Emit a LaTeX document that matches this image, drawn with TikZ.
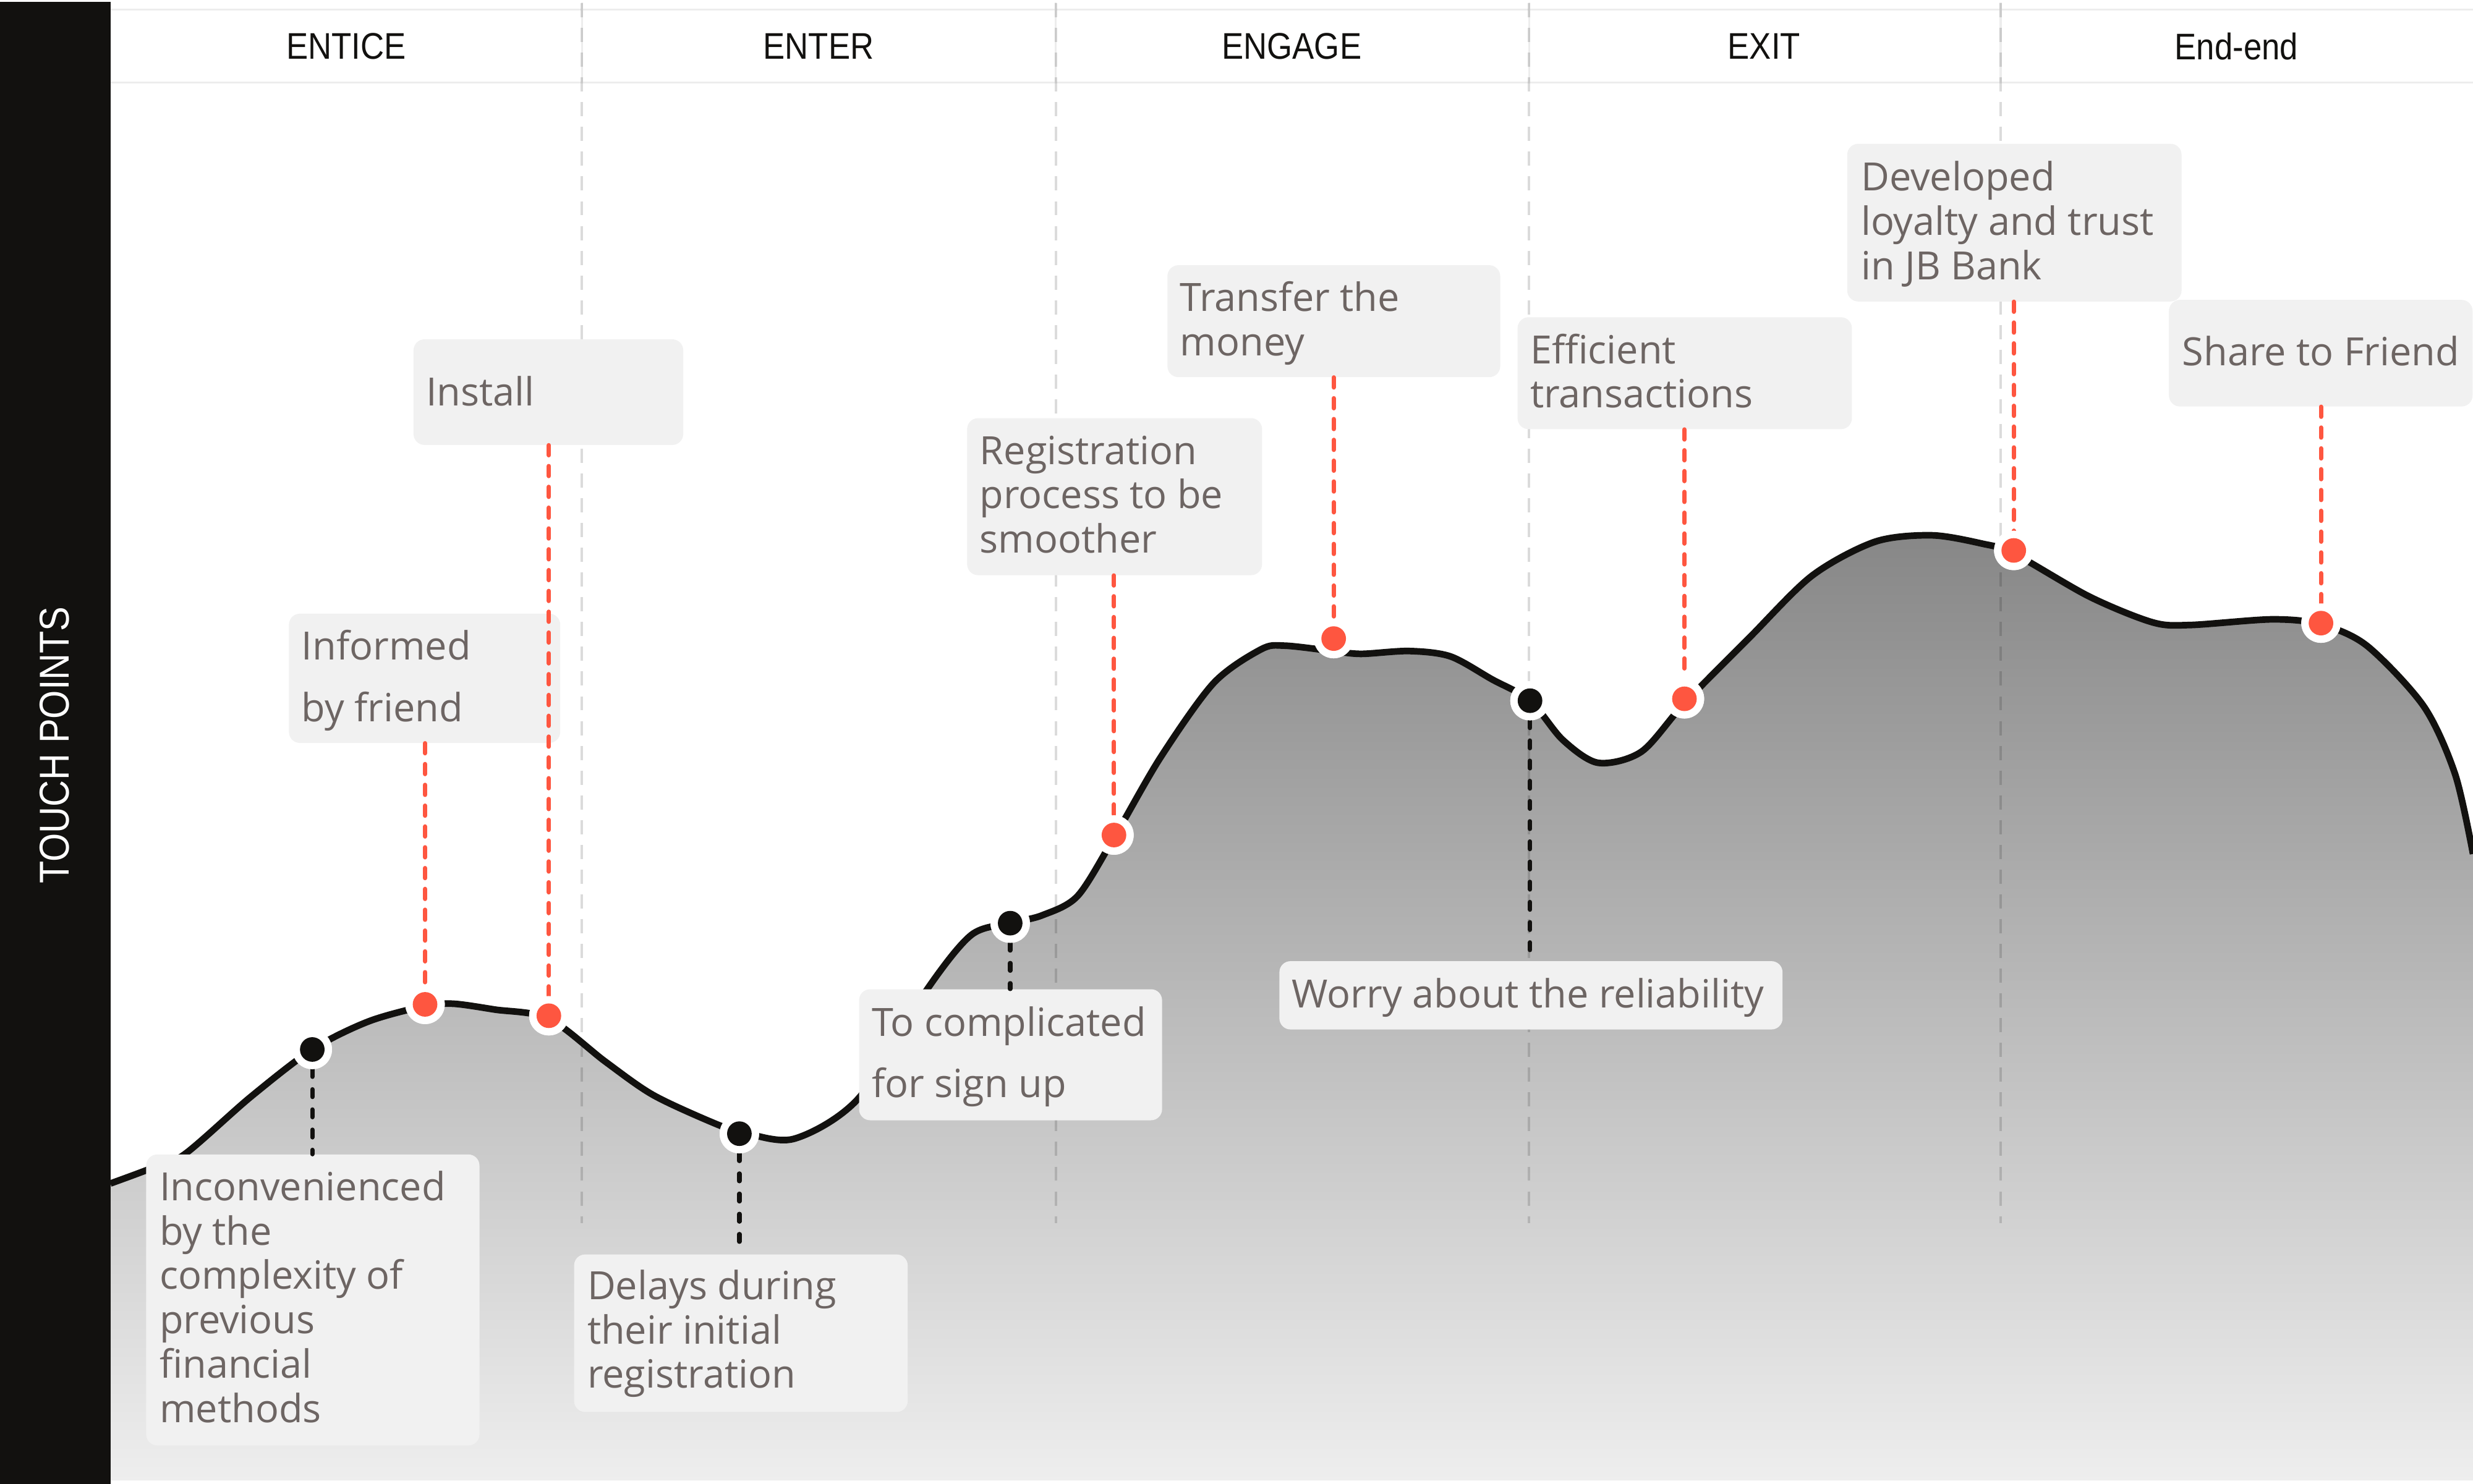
\documentclass[tikz,border=0pt]{standalone}
\usepackage{fontspec}
\setmainfont{Open Sans}
\newfontfamily\headfont[FakeStretch=0.88]{Liberation Sans}
\definecolor{ink}{HTML}{12110F}
\definecolor{dotred}{HTML}{FE5640}
\definecolor{boxfill}{HTML}{F1F1F1}
\definecolor{boxtext}{HTML}{6D6563}
\definecolor{headline}{HTML}{EDEDED}
\definecolor{gtop}{HTML}{878787}
\definecolor{gmid}{HTML}{B0B0B0}
\definecolor{gbot}{HTML}{EEEEEE}
\newcommand\tl[2]{{\baselineskip=#1pt\vtop{#2}}}
\begin{document}
\begin{tikzpicture}[x=1pt,y=-1pt,
  box/.style={rectangle, rounded corners=7pt, fill=boxfill, inner sep=0pt, anchor=north west},
  lbl/.style={anchor=base west, inner sep=0pt, text=boxtext, font=\fontsize{24.7}{28}\selectfont},
  head/.style={inner sep=0pt, text=ink, font=\headfont\fontsize{23.5}{26}\selectfont},
  reddot/.style={circle, fill=dotred, draw=white, line width=4.7pt, minimum size=20.3pt, inner sep=0pt},
  blackdot/.style={circle, fill=ink, draw=white, line width=4.7pt, minimum size=20.3pt, inner sep=0pt},
  redlink/.style={draw=dotred, line width=2.8pt, line cap=round, dash pattern=on 6.3pt off 6.9pt},
  blacklink/.style={draw=ink, line width=2.8pt, line cap=round, dash pattern=on 4.8pt off 8pt},
  sepline/.style={draw=black, draw opacity=0.14, line width=1.5pt, dash pattern=on 9pt off 6.7pt},
  curveline/.style={draw=ink, line width=4.2pt, line join=round}
]
\useasboundingbox (0,0) rectangle (1568,941);
\fill[white] (0,0) rectangle (1568,941);

% area under the curve
\path[top color=gtop, middle color=gmid, bottom color=gbot]
  plot[smooth, tension=0.5] coordinates {(70,750.6) (92.5,742.3) (116.3,732.6) (158.8,695.8) (198,665.6) (233.7,647.8) (269.5,638) (287.5,636.6) (313.8,640.3) (348,646) (383.8,673.3) (413.8,694.3) (450.8,711.5) (468.8,717.5) (503.3,722.3) (544.5,696.4) (587.6,627.8) (615.8,593) (640.5,585.5) (660.8,580.5) (683.3,568.2) (706.5,531) (735.8,480.4) (769.5,433.2) (799.6,411.8) (814.6,409.5) (845.7,413) (863.2,414.7) (893.4,412.9) (919.6,416.3) (945.9,430.8) (970.2,444.4) (990.8,469.2) (1013.3,483.8) (1040.8,476.7) (1068,446) (1108.8,404.8) (1148.8,365.2) (1188.8,343.6) (1224.8,339.5) (1256.8,344.8) (1276.8,351) (1324.8,378.4) (1364.8,394.7) (1388.8,396.4) (1440.8,392.8) (1471.6,396) (1500.8,409.6) (1536.8,448) (1556.7,491.2) (1568,541.6)}
  -- (1568,939) -- (70,939) -- cycle;

% header band
\fill[white] (70,6) rectangle (1568,52.5);
\draw[headline, line width=1.2pt] (70,6) -- (1568,6) (70,52.5) -- (1568,52.5);
\foreach \x in {369,669.5,969.5,1268.5}{
  \draw[headline, line width=1.2pt] (\x,1.5) -- (\x,52.5);
  \draw[sepline] (\x,2) -- (\x,775.8);
}
\node[head] (hEntice) at (219.5,29.5) {ENTICE};
\node[head] (hEnter) at (519,29.5) {ENTER};
\node[head] (hEngage) at (819,29.5) {ENGAGE};
\node[head] (hExit) at (1118.5,29.5) {EXIT};
\node[head] (hEnd) at (1418,29.5) {End-end};

% side bar
\fill[ink] (0,1.2) rectangle (70,941);
\node[inner sep=0pt, text=white, rotate=90, font=\headfont\fontsize{26.5}{30}\selectfont] (side) at (34.6,472.6) {TOUCH POINTS};

% curve line
\draw[curveline]
  plot[smooth, tension=0.5] coordinates {(70,750.6) (92.5,742.3) (116.3,732.6) (158.8,695.8) (198,665.6) (233.7,647.8) (269.5,638) (287.5,636.6) (313.8,640.3) (348,646) (383.8,673.3) (413.8,694.3) (450.8,711.5) (468.8,717.5) (503.3,722.3) (544.5,696.4) (587.6,627.8) (615.8,593) (640.5,585.5) (660.8,580.5) (683.3,568.2) (706.5,531) (735.8,480.4) (769.5,433.2) (799.6,411.8) (814.6,409.5) (845.7,413) (863.2,414.7) (893.4,412.9) (919.6,416.3) (945.9,430.8) (970.2,444.4) (990.8,469.2) (1013.3,483.8) (1040.8,476.7) (1068,446) (1108.8,404.8) (1148.8,365.2) (1188.8,343.6) (1224.8,339.5) (1256.8,344.8) (1276.8,351) (1324.8,378.4) (1364.8,394.7) (1388.8,396.4) (1440.8,392.8) (1471.6,396) (1500.8,409.6) (1536.8,448) (1556.7,491.2) (1568,541.6)};

% boxes
\node[box, minimum width=171pt, minimum height=67pt] (bInstall) at (262,215) {};
\node[box, minimum width=172pt, minimum height=82pt] (bInformed) at (183,389) {};
\node[box, minimum width=211.3pt, minimum height=184.5pt] (bIncon) at (92.5,732) {};
\node[box, minimum width=211.5pt, minimum height=99.9pt] (bDelays) at (363.8,795.4) {};
\node[box, minimum width=192.1pt, minimum height=83.1pt] (bTocomp) at (544.5,627.2) {};
\node[box, minimum width=187pt, minimum height=99.6pt] (bRegis) at (613,265) {};
\node[box, minimum width=211pt, minimum height=71pt] (bTransfer) at (740,168) {};
\node[box, minimum width=319pt, minimum height=43.3pt] (bWorry) at (811,609.4) {};
\node[box, minimum width=212pt, minimum height=71pt] (bEfficient) at (962,201) {};
\node[box, minimum width=212pt, minimum height=100pt] (bDeveloped) at (1171,91) {};
\node[box, minimum width=192.5pt, minimum height=67.6pt] (bShare) at (1375,190) {};

% box texts
\node[lbl] (tInstall) at (270,257.5) {Install};
\node[lbl] (tInformed) at (191,418.5) {\tl{39}{\hbox{Informed}\hbox{by friend}}};
\node[lbl] (tIncon) at (101,761.5) {\tl{28.1}{\hbox{Inconvenienced}\hbox{by the}\hbox{complexity of}\hbox{previous}\hbox{financial}\hbox{methods}}};
\node[lbl] (tDelays) at (372.2,824.3) {\tl{28}{\hbox{Delays during}\hbox{their initial}\hbox{registration}}};
\node[lbl] (tTocomp) at (552.7,657) {\tl{39}{\hbox{To complicated}\hbox{for sign up}}};
\node[lbl] (tRegis) at (621,294.5) {\tl{28}{\hbox{Registration}\hbox{process to be}\hbox{smoother}}};
\node[lbl] (tTransfer) at (748,197.5) {\tl{28}{\hbox{Transfer the}\hbox{money}}};
\node[lbl] (tWorry) at (819,639) {Worry about the reliability};
\node[lbl] (tEfficient) at (970,230.5) {\tl{28}{\hbox{Efficient}\hbox{transactions}}};
\node[lbl] (tDeveloped) at (1179.8,120.8) {\tl{28.2}{\hbox{Developed}\hbox{loyalty and trust}\hbox{in JB Bank}}};
\node[lbl] (tShare) at (1383.5,232) {Share to Friend};

% dots
\node[blackdot] (k1) at (198,665.6) {};
\node[blackdot] (k2) at (468.8,719) {};
\node[blackdot] (k3) at (640.5,585.5) {};
\node[blackdot] (k4) at (970.1,444.4) {};
\node[reddot] (r1) at (269.5,637) {};
\node[reddot] (r2) at (348,644.2) {};
\node[reddot] (r3) at (706.3,529.6) {};
\node[reddot] (r4) at (845.6,405) {};
\node[reddot] (r5) at (1068,443.2) {};
\node[reddot] (r6) at (1276.8,349.1) {};
\node[reddot] (r7) at (1471.6,395.2) {};

% connectors
\draw[blacklink] (k1) -- (k1 |- bIncon.north);
\draw[blacklink] (k2) -- (k2 |- bDelays.north);
\draw[blacklink] (k3) -- (k3 |- bTocomp.north);
\draw[blacklink] (k4) -- (k4 |- bWorry.north);
\draw[redlink] (r1 |- bInformed.south) -- (r1);
\draw[redlink] (r2 |- bInstall.south) -- (r2);
\draw[redlink] (r3 |- bRegis.south) -- (r3);
\draw[redlink] (r4 |- bTransfer.south) -- (r4);
\draw[redlink] (r5 |- bEfficient.south) -- (r5);
\draw[redlink] (r6 |- bDeveloped.south) -- (r6);
\draw[redlink] (r7 |- bShare.south) -- (r7);

% dots on top of connectors
\foreach \p in {(198,665.6),(468.8,719),(640.5,585.5),(970.1,444.4)}
  \fill[white] \p circle (12.5pt);
\foreach \p in {(198,665.6),(468.8,719),(640.5,585.5),(970.1,444.4)}
  \fill[ink] \p circle (7.8pt);
\foreach \p in {(269.5,637),(348,644.2),(706.3,529.6),(845.6,405),(1068,443.2),(1276.8,349.1),(1471.6,395.2)}
  \fill[white] \p circle (12.5pt);
\foreach \p in {(269.5,637),(348,644.2),(706.3,529.6),(845.6,405),(1068,443.2),(1276.8,349.1),(1471.6,395.2)}
  \fill[dotred] \p circle (7.8pt);
\end{tikzpicture}
\end{document}
